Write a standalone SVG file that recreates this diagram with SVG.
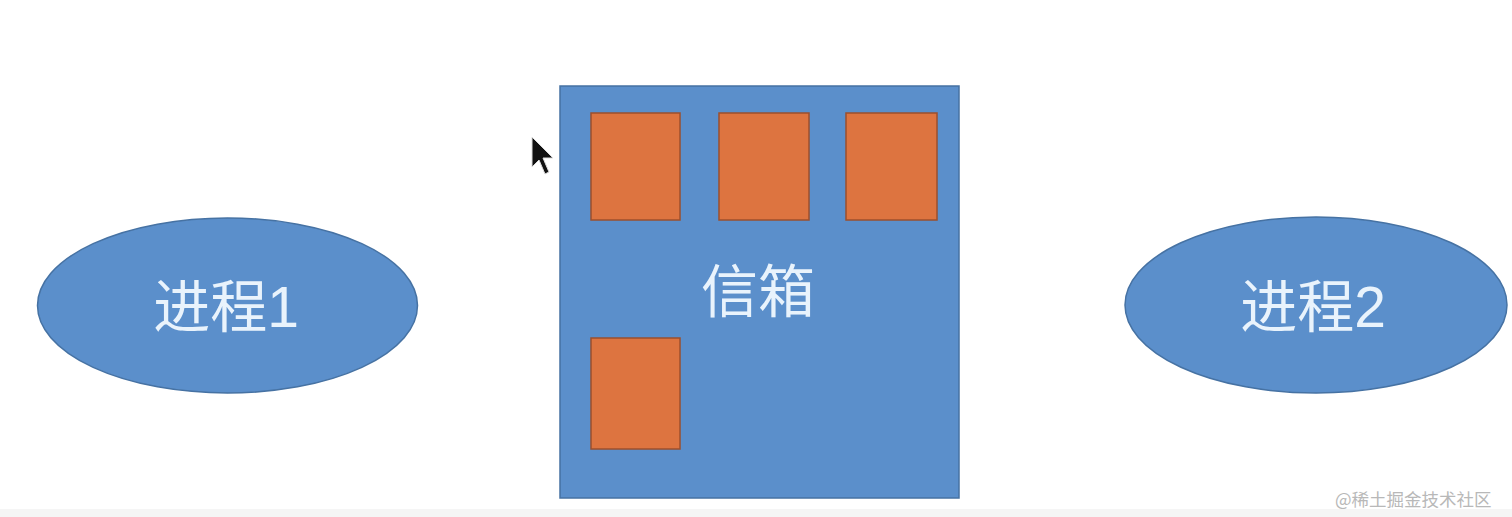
<svg xmlns="http://www.w3.org/2000/svg" width="1512" height="517" viewBox="0 0 1512 517">
<style>
.proc{fill:#5b8fcb;stroke:#4672a3;stroke-width:1.5}
.box{fill:#5b8fcb;stroke:#4672a3;stroke-width:1.5}
.msg{fill:#dd7440;stroke:#9c4f2c;stroke-width:1.5}
.lbl{font-family:"Liberation Sans","Noto Sans CJK SC",sans-serif;fill:#e9f3fc;text-anchor:middle}
.wm{font-family:"Noto Sans CJK SC",sans-serif;fill:#b8b8b8;font-size:17.5px}
</style>
<rect x="0" y="0" width="1512" height="517" fill="#ffffff"/>
<rect x="0" y="509" width="1512" height="8" fill="#f5f5f5"/>
<g id="process1">
<ellipse class="proc" cx="227.5" cy="305.5" rx="190" ry="87.5"/>
<text class="lbl" x="226" y="327" font-size="57">进程1</text>
</g>
<g id="mailbox">
<rect class="box" x="560" y="86" width="399" height="412"/>
<text class="lbl" x="758" y="312" font-size="57">信箱</text>
</g>
<g id="msg1"><rect class="msg" x="591" y="113" width="89" height="107"/></g>
<g id="msg2"><rect class="msg" x="719" y="113" width="90" height="107"/></g>
<g id="msg3"><rect class="msg" x="846" y="113" width="91" height="107"/></g>
<g id="msg4"><rect class="msg" x="591" y="338" width="89" height="111"/></g>
<g id="process2">
<ellipse class="proc" cx="1316" cy="305" rx="191" ry="88"/>
<text class="lbl" x="1313" y="327" font-size="57">进程2</text>
</g>
<g id="connectors"></g>
<g id="cursor">
<path d="M532,137 L532,167 L539,160 L545,174 L549,172 L543,158 L553,158 Z" fill="#111" stroke="#ddd" stroke-width="1"/>
</g>
<text class="wm" x="1335" y="506">@稀土掘金技术社区</text>
</svg>
